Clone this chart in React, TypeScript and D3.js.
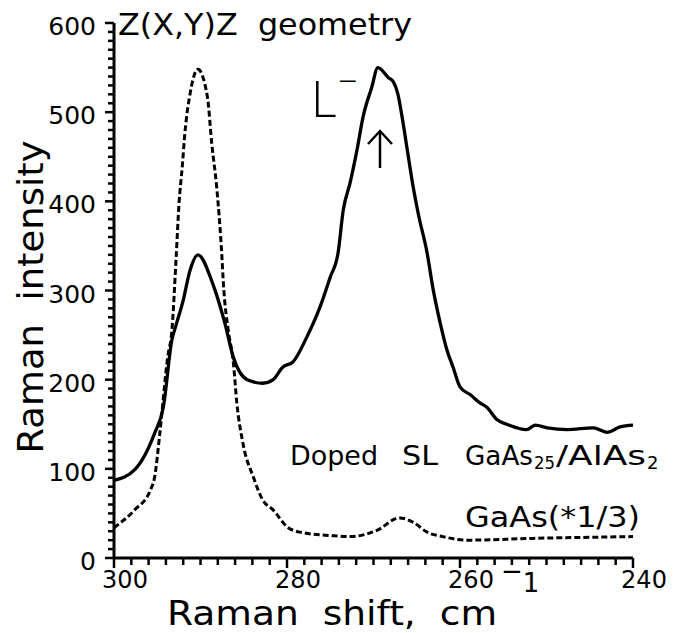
import React from "react";
import * as d3 from "d3";

// Doped superlattice GaAs25/AlAs2 spectrum (solid)
const slShift = [300, 297.6, 295.3, 294.3, 293.3, 292.8, 292.0, 291.2, 290.3, 288.6, 287.2, 286.2, 284.6, 282.8, 281.6, 280.5, 279.3, 277.7, 276.2, 275.0, 274.1, 273.5, 272.7, 271.9, 271.2, 270.2, 269.5, 268.3, 267.7, 267.2, 266.7, 266.1, 265.5, 264.8, 263.8, 263.1, 262.3, 261.5, 260.8, 260.0, 258.8, 257.7, 256.9, 255.7, 254.6, 252.3, 251.3, 249.9, 247.6, 244.6, 243.0, 241.5, 240];
const slIntensity = [87, 99, 140, 169, 245, 262, 289, 323, 340, 308, 264, 225, 200, 196, 200, 214, 220, 248, 281, 315, 342, 390, 421, 458, 495, 528, 550, 539, 534, 521, 495, 458, 421, 385, 342, 301, 264, 233, 214, 192, 183, 174, 169, 155, 150, 144, 149, 146, 144, 146, 141, 147, 149];

// Bulk GaAs spectrum scaled by 1/3 (dashed)
const gaasShift = [300, 297.6, 295.8, 295.3, 294.7, 293.8, 293.3, 292.8, 292.5, 292.1, 291.8, 291.2, 290.3, 289.2, 288.7, 288.1, 287.6, 287.3, 286.8, 286.2, 285.8, 285.1, 283.9, 282.8, 281.6, 280.0, 278.5, 274.7, 272.7, 269.6, 267.0, 265.4, 263.8, 262.0, 259.2, 251.6, 240];
const gaasIntensity = [34, 54, 76, 91, 140, 225, 256, 340, 395, 440, 477, 521, 548, 517, 465, 413, 350, 300, 256, 219, 174, 129, 91, 65, 54, 35, 29, 25, 24, 31, 45, 40, 29, 24, 20, 22, 24];

const xMajorTicks = [300, 280, 260, 240];
const yMajorTicks = [0, 100, 200, 300, 400, 500, 600];

const W = 674;
const H = 633;
const FONT = "'DejaVu Sans', sans-serif";
const FIT = "spacingAndGlyphs";

type Pt = [number, number];

export default function App() {
  const x = d3.scaleLinear().domain([300, 240]).range([114, 633]);
  const y = d3.scaleLinear().domain([0, 600]).range([558, 23]);

  const line = d3
    .line<Pt>()
    .x((d) => x(d[0]))
    .y((d) => y(d[1]))
    .curve(d3.curveMonotoneX);

  // order points by screen x so the monotone curve sees increasing x
  const toPts = (s: number[], v: number[]): Pt[] =>
    s.map((d, i) => [d, v[i]] as Pt).sort((a, b) => b[0] - a[0]);

  const slPath = line(toPts(slShift, slIntensity)) || "";
  const gaasPath = line(toPts(gaasShift, gaasIntensity)) || "";

  const xMinor = d3.range(300, 239, -2);
  const yMinor = d3.range(0, 601, 10);

  return (
    <svg
      width={W}
      height={H}
      viewBox={`0 0 ${W} ${H}`}
      style={{ position: "absolute", left: 0, top: 0, background: "#fff" }}
      fontFamily={FONT}
    >
      <rect width={W} height={H} fill="#fff" />

      {/* axes */}
      <line x1={x(300)} x2={x(240)} y1={y(0)} y2={y(0)} stroke="#000" strokeWidth={3} />
      <line x1={x(300)} x2={x(300)} y1={y(0)} y2={y(600)} stroke="#000" strokeWidth={3} />

      {xMinor.map((v) => {
        const major = xMajorTicks.includes(v);
        return (
          <line key={"xt" + v} x1={x(v)} x2={x(v)} y1={y(0)} y2={y(0) + (major ? 10 : 7)} stroke="#000" strokeWidth={2.5} />
        );
      })}
      {yMinor.map((v) => {
        const major = yMajorTicks.includes(v);
        return (
          <line key={"yt" + v} x1={x(300)} x2={x(300) - (major ? 9 : 6)} y1={y(v)} y2={y(v)} stroke="#000" strokeWidth={2.5} />
        );
      })}

      {xMajorTicks.map((v) => (
        <text key={"xl" + v} x={x(v) + 11} y={588} fontSize={24} textAnchor="middle" fill="#000">
          {v}
        </text>
      ))}
      {yMajorTicks.map((v) => (
        <text key={"yl" + v} x={96} y={y(v) + 12} fontSize={25} textAnchor="end" fill="#000">
          {v}
        </text>
      ))}

      {/* spectra */}
      <path d={gaasPath} fill="none" stroke="#000" strokeWidth={3} strokeDasharray="6 3" />
      <path d={slPath} fill="none" stroke="#000" strokeWidth={3.3} strokeLinejoin="round" />

      {/* axis titles */}
      <text x={167} y={625} fontSize={33} fill="#000" textLength={330} lengthAdjust={FIT} style={{ whiteSpace: "pre" }}>
        Raman  shift,  cm
      </text>
      <text x={501} y={592} fontSize={26} fill="#000">
        <tspan dy={-12}>−</tspan>
        <tspan dy={12}>1</tspan>
      </text>
      <text
        transform="translate(43,297) rotate(-90)"
        textAnchor="middle"
        fontSize={36}
        fill="#000"
        textLength={313}
        lengthAdjust={FIT}
        style={{ whiteSpace: "pre" }}
      >
        Raman  intensity
      </text>

      {/* annotations */}
      <text x={118} y={35} fontSize={31} fill="#000" textLength={294} lengthAdjust={FIT} style={{ whiteSpace: "pre" }}>
        Z(X,Y)Z  geometry
      </text>
      <text x={311} y={117} fontSize={50} fontFamily="'Open Sans', sans-serif" fontWeight={300} fill="#000">
        L
      </text>
      <text x={338} y={93} fontSize={34} fontFamily="'Open Sans', sans-serif" fontWeight={300} fill="#000">
        −
      </text>
      <line x1={380} x2={380} y1={168} y2={132} stroke="#000" strokeWidth={2.5} />
      <path d="M368,144 L380,131 L392,144" fill="none" stroke="#000" strokeWidth={2.5} />

      <g fontSize={27} fill="#000">
        <text x={290} y={465} textLength={88} lengthAdjust={FIT}>Doped</text>
        <text x={402} y={465} textLength={36} lengthAdjust={FIT}>SL</text>
        <text x={465} y={465} textLength={68} lengthAdjust={FIT}>GaAs</text>
        <text x={534} y={469} fontSize={18} textLength={21} lengthAdjust={FIT}>25</text>
        <text x={556} y={465} textLength={90} lengthAdjust={FIT}>/AlAs</text>
        <text x={647} y={469} fontSize={18}>2</text>
      </g>
      <text x={465} y={527} fontSize={28} fill="#000" textLength={175} lengthAdjust={FIT}>
        GaAs(*1/3)
      </text>
    </svg>
  );
}
